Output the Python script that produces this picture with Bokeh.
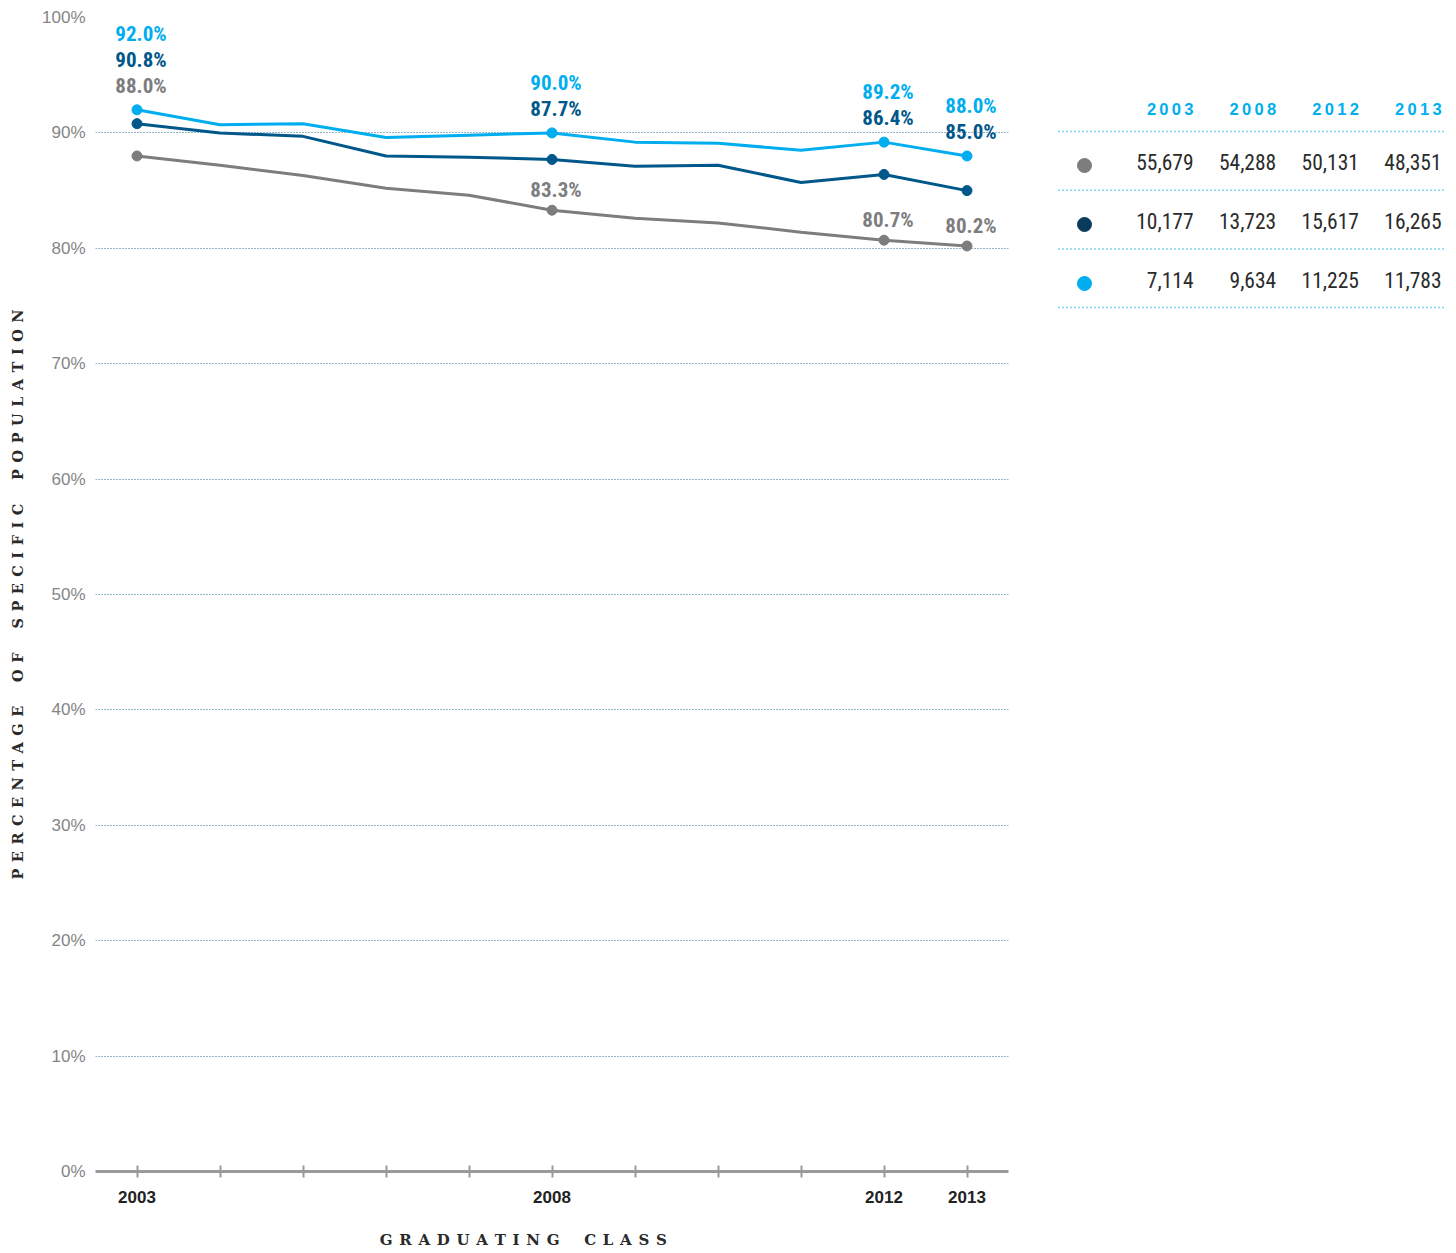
from bokeh.plotting import figure
from bokeh.models import Range1d, ColumnDataSource, FixedTicker
from bokeh.layouts import row
from bokeh.embed import file_html
from bokeh.resources import INLINE
from bokeh.core.properties import value

# ---------------- data ----------------
years = list(range(2003, 2014))
gray_pct = [88.0, 87.2, 86.3, 85.2, 84.6, 83.3, 82.6, 82.2, 81.4, 80.7, 80.2]
dark_pct = [90.8, 90.0, 89.7, 88.0, 87.9, 87.7, 87.1, 87.2, 85.7, 86.4, 85.0]
light_pct = [92.0, 90.7, 90.8, 89.6, 89.8, 90.0, 89.2, 89.1, 88.5, 89.2, 88.0]
highlight_years = [2003, 2008, 2012, 2013]
x_tick_labels = {2003: "2003", 2008: "2008", 2012: "2012", 2013: "2013"}
y_ticks = [0, 10, 20, 30, 40, 50, 60, 70, 80, 90, 100]
y_tick_labels = {t: f"{t}%" for t in y_ticks}
table_years = ["2003", "2008", "2012", "2013"]
counts_gray = [55679, 54288, 50131, 48351]
counts_dark = [10177, 13723, 15617, 16265]
counts_light = [7114, 9634, 11225, 11783]
x_title = "GRADUATING CLASS"
y_title = "PERCENTAGE OF SPECIFIC POPULATION"

# ---------------- styles ----------------
C_GRAY = "#7d7d7f"
C_DARK = "#00578a"
C_DARK_DOT = "#0a3b5c"
C_LIGHT = "#00aeef"
C_TEXT = "#2b2b2b"
COND = "Roboto Condensed, DejaVu Sans Condensed, Roboto"
SLAB = "DejaVu Serif"
TOP, BOTTOM = 17, 82   # page borders shared by both panels


def spaced(s):
    # letter-spaced caps: space+hair between letters, wide gap between words
    return "\u2003 \u2009\u200a".join(" \u200a".join(w) for w in s.split(" "))


p = figure(width=1048, height=1253, output_backend="svg", toolbar_location=None,
           x_range=Range1d(2002.5, 2013.5), y_range=Range1d(0, 100),
           min_border_left=95, min_border_right=40, min_border_top=TOP,
           min_border_bottom=BOTTOM)
p.outline_line_color = None
p.background_fill_color = "white"
p.border_fill_color = "white"

# grid
p.xgrid.visible = False
p.ygrid.ticker = FixedTicker(ticks=y_ticks[1:])
p.ygrid.grid_line_color = "#1f6b8c"
p.ygrid.grid_line_dash = "1 2"
p.ygrid.grid_line_width = 1.2

# x axis
xa = p.xaxis[0]
xa.ticker = FixedTicker(ticks=years)
xa.major_label_overrides = {y: x_tick_labels.get(y, "") for y in years}
xa.axis_line_color = "#9a9a9a"
xa.axis_line_width = 3
xa.major_tick_line_color = "#9a9a9a"
xa.major_tick_line_width = 2
xa.major_tick_in = 6
xa.major_tick_out = 6
xa.minor_tick_line_color = None
xa.major_label_standoff = 13
xa.major_label_text_font = "Liberation Sans"
xa.major_label_text_font_style = "bold"
xa.major_label_text_font_size = "17px"
xa.major_label_text_color = "#222222"
xa.axis_label = spaced(x_title) + "\u00a0" * 11
xa.axis_label_standoff = 25
xa.axis_label_text_font = SLAB
xa.axis_label_text_font_style = "bold"
xa.axis_label_text_font_size = "15px"
xa.axis_label_text_color = "#2a2a2a"

# y axis
ya = p.yaxis[0]
ya.ticker = FixedTicker(ticks=y_ticks)
ya.major_label_overrides = y_tick_labels
ya.axis_line_color = None
ya.major_tick_line_color = None
ya.minor_tick_line_color = None
ya.major_tick_out = 0
ya.major_tick_in = 0
ya.major_label_standoff = 10
ya.major_label_text_font = "Liberation Sans"
ya.major_label_text_font_size = "17px"
ya.major_label_text_color = "#858585"
ya.axis_label = spaced(y_title)
ya.axis_label_standoff = 13
ya.axis_label_text_font = SLAB
ya.axis_label_text_font_style = "bold"
ya.axis_label_text_font_size = "14.5px"
ya.axis_label_text_color = "#2a2a2a"

# lines
series = [(gray_pct, C_GRAY), (dark_pct, C_DARK), (light_pct, C_LIGHT)]
for vals, col in series:
    p.line(years, vals, line_color=col, line_width=3)
    hx = [y for y in years if y in highlight_years]
    hy = [v for y, v in zip(years, vals) if y in highlight_years]
    p.scatter(hx, hy, size=10, fill_color=col, line_color=col)

# value labels
lx, ly, lt, lc, lo = [], [], [], [], []
for yr in highlight_years:
    i = years.index(yr)
    if yr == highlight_years[0]:
        stack = [(light_pct, C_LIGHT, -76), (dark_pct, C_DARK, -50), (gray_pct, C_GRAY, -24)]
        for vals, col, off in stack:
            lx.append(yr); ly.append(light_pct[i]); lt.append(f"{vals[i]:.1f}%")
            lc.append(col); lo.append(off)
    else:
        for vals, col, off in [(light_pct, C_LIGHT, -50), (dark_pct, C_DARK, -24)]:
            lx.append(yr); ly.append(light_pct[i]); lt.append(f"{vals[i]:.1f}%")
            lc.append(col); lo.append(off)
        lx.append(yr); ly.append(gray_pct[i]); lt.append(f"{gray_pct[i]:.1f}%")
        lc.append(C_GRAY); lo.append(-20)
src = ColumnDataSource(dict(x=lx, y=ly, text=lt, color=lc, off=lo))
p.text(x="x", y="y", text="text", source=src, text_color="color", y_offset="off",
       x_offset=4, text_align="center", text_baseline="middle",
       text_font=value(COND), text_font_style="bold", text_font_size="21px")

# ---------------- table (page-pixel coordinates) ----------------
t = figure(width=408, height=1253, output_backend="svg", toolbar_location=None,
           x_range=Range1d(1048, 1456), y_range=Range1d(1253 - BOTTOM, TOP),
           x_axis_location=None, y_axis_location=None,
           min_border_left=0, min_border_right=0,
           min_border_top=TOP, min_border_bottom=BOTTOM)
t.grid.visible = False
t.outline_line_color = None
t.border_fill_color = "white"

col_right = [1193 + i * 82.7 for i in range(len(table_years))]
row_y = [161 + i * 59 for i in range(3)]
line_y = [131 + i * 58.7 for i in range(4)]

t.text(x=col_right, y=[108] * 4, text=["\u2009".join(s) for s in table_years],
       text_align="right", text_baseline="middle", text_color=C_LIGHT,
       text_font=value("Liberation Sans"), text_font_style="bold", text_font_size="16.5px")
t.segment(x0=[1058] * 4, y0=line_y, x1=[1443] * 4, y1=line_y,
          line_color=C_LIGHT, line_width=1.5, line_dash="1 3")

rows = [(counts_gray, C_GRAY), (counts_dark, C_DARK_DOT), (counts_light, C_LIGHT)]
for (vals, col), yy in zip(rows, row_y):
    t.scatter([1084], [yy + 4], size=14, fill_color=col, line_color=col)
    t.text(x=col_right, y=[yy] * 4, text=[f"{v:,}" for v in vals],
           text_align="right", text_baseline="middle", text_color=C_TEXT,
           text_font=value(COND), text_font_size="21.5px")

layout = row(p, t)
open("out.html", "w").write(file_html(layout, INLINE))
